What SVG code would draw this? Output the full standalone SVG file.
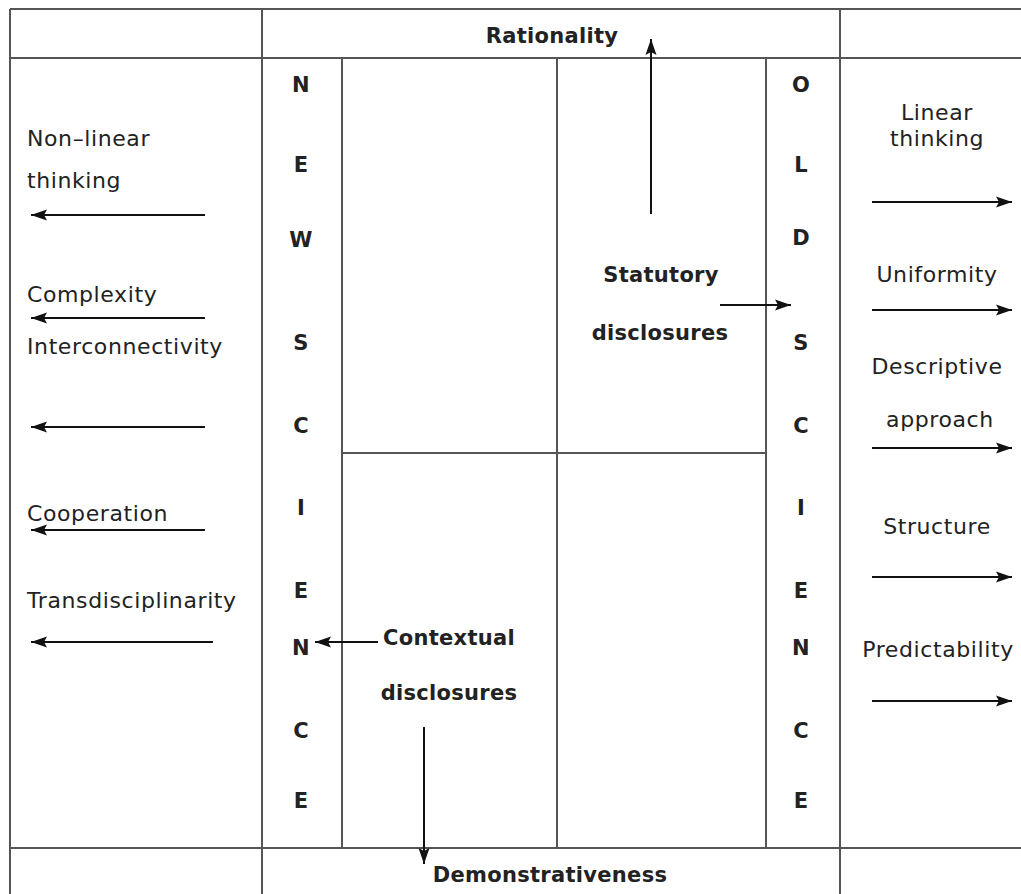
<svg xmlns="http://www.w3.org/2000/svg" width="1021" height="894" viewBox="0 0 1021 894">
<style>
.grid{stroke:#555;stroke-width:2;fill:none}
.arr{stroke:#111;stroke-width:2;fill:none;marker-end:url(#ah)}
.t{font-family:"DejaVu Sans",sans-serif;font-size:22px;fill:#222;letter-spacing:0.6px}
.b{font-family:"DejaVu Sans",sans-serif;font-size:21px;font-weight:bold;fill:#222;letter-spacing:0.3px}
.c{text-anchor:middle}
</style>
<defs>
<marker id="ah" markerWidth="16" markerHeight="12" refX="16" refY="6" orient="auto" markerUnits="userSpaceOnUse">
<path d="M0,0.5 L16,6 L0,11.5 L3,6 Z" fill="#111"/>
</marker>
</defs>
<rect width="1021" height="894" fill="#fff"/>
<g id="grid">
<line class="grid" x1="10" y1="9" x2="1021" y2="9"/>
<line class="grid" x1="10" y1="58" x2="1021" y2="58"/>
<line class="grid" x1="10" y1="848" x2="1021" y2="848"/>
<line class="grid" x1="10" y1="9" x2="10" y2="894"/>
<line class="grid" x1="262" y1="9" x2="262" y2="894"/>
<line class="grid" x1="840" y1="9" x2="840" y2="894"/>
<line class="grid" x1="342" y1="58" x2="342" y2="848"/>
<line class="grid" x1="557" y1="58" x2="557" y2="848"/>
<line class="grid" x1="766" y1="58" x2="766" y2="848"/>
<line class="grid" x1="342" y1="453" x2="766" y2="453"/>
</g>
<g id="rationality"><text class="b c" x="552" y="43">Rationality</text></g>
<g id="demonstrativeness"><text class="b c" x="550" y="882">Demonstrativeness</text></g>
<g id="new-science">
<text class="b c" x="301" y="92">N</text>
<text class="b c" x="301" y="172">E</text>
<text class="b c" x="301" y="247">W</text>
<text class="b c" x="301" y="350">S</text>
<text class="b c" x="301" y="433">C</text>
<text class="b c" x="301" y="515">I</text>
<text class="b c" x="301" y="598">E</text>
<text class="b c" x="301" y="655">N</text>
<text class="b c" x="301" y="738">C</text>
<text class="b c" x="301" y="808">E</text>
</g>
<g id="old-science">
<text class="b c" x="801" y="92">O</text>
<text class="b c" x="801" y="172">L</text>
<text class="b c" x="801" y="245">D</text>
<text class="b c" x="801" y="350">S</text>
<text class="b c" x="801" y="433">C</text>
<text class="b c" x="801" y="515">I</text>
<text class="b c" x="801" y="598">E</text>
<text class="b c" x="801" y="655">N</text>
<text class="b c" x="801" y="738">C</text>
<text class="b c" x="801" y="808">E</text>
</g>
<g id="statutory"><text class="b c" x="661" y="282">Statutory</text><text class="b c" x="660" y="340">disclosures</text></g>
<g id="contextual"><text class="b c" x="449" y="645">Contextual</text><text class="b c" x="449" y="700">disclosures</text></g>
<g id="left-labels">
<text class="t" x="27" y="146">Non–linear</text>
<text class="t" x="27" y="188">thinking</text>
<text class="t" x="27" y="302">Complexity</text>
<text class="t" x="27" y="354">Interconnectivity</text>
<text class="t" x="27" y="521">Cooperation</text>
<text class="t" x="27" y="608">Transdisciplinarity</text>
</g>
<g id="right-labels">
<text class="t c" x="937" y="120">Linear</text>
<text class="t c" x="937" y="146">thinking</text>
<text class="t c" x="937" y="282">Uniformity</text>
<text class="t c" x="937" y="374">Descriptive</text>
<text class="t c" x="940" y="427">approach</text>
<text class="t c" x="937" y="534">Structure</text>
<text class="t c" x="938" y="657">Predictability</text>
</g>
<g id="connectors">
<line class="arr" x1="651" y1="214" x2="651" y2="39"/>
<line class="arr" x1="720" y1="305" x2="791" y2="305"/>
<line class="arr" x1="378" y1="642" x2="315" y2="642"/>
<line class="arr" x1="424" y1="727" x2="424" y2="864"/>
<line class="arr" x1="205" y1="215" x2="31" y2="215"/>
<line class="arr" x1="205" y1="318" x2="31" y2="318"/>
<line class="arr" x1="205" y1="427" x2="31" y2="427"/>
<line class="arr" x1="205" y1="530" x2="31" y2="530"/>
<line class="arr" x1="213" y1="642" x2="31" y2="642"/>
<line class="arr" x1="872" y1="202" x2="1012" y2="202"/>
<line class="arr" x1="872" y1="310" x2="1012" y2="310"/>
<line class="arr" x1="872" y1="448" x2="1012" y2="448"/>
<line class="arr" x1="872" y1="577" x2="1012" y2="577"/>
<line class="arr" x1="872" y1="701" x2="1012" y2="701"/>
</g>
</svg>
